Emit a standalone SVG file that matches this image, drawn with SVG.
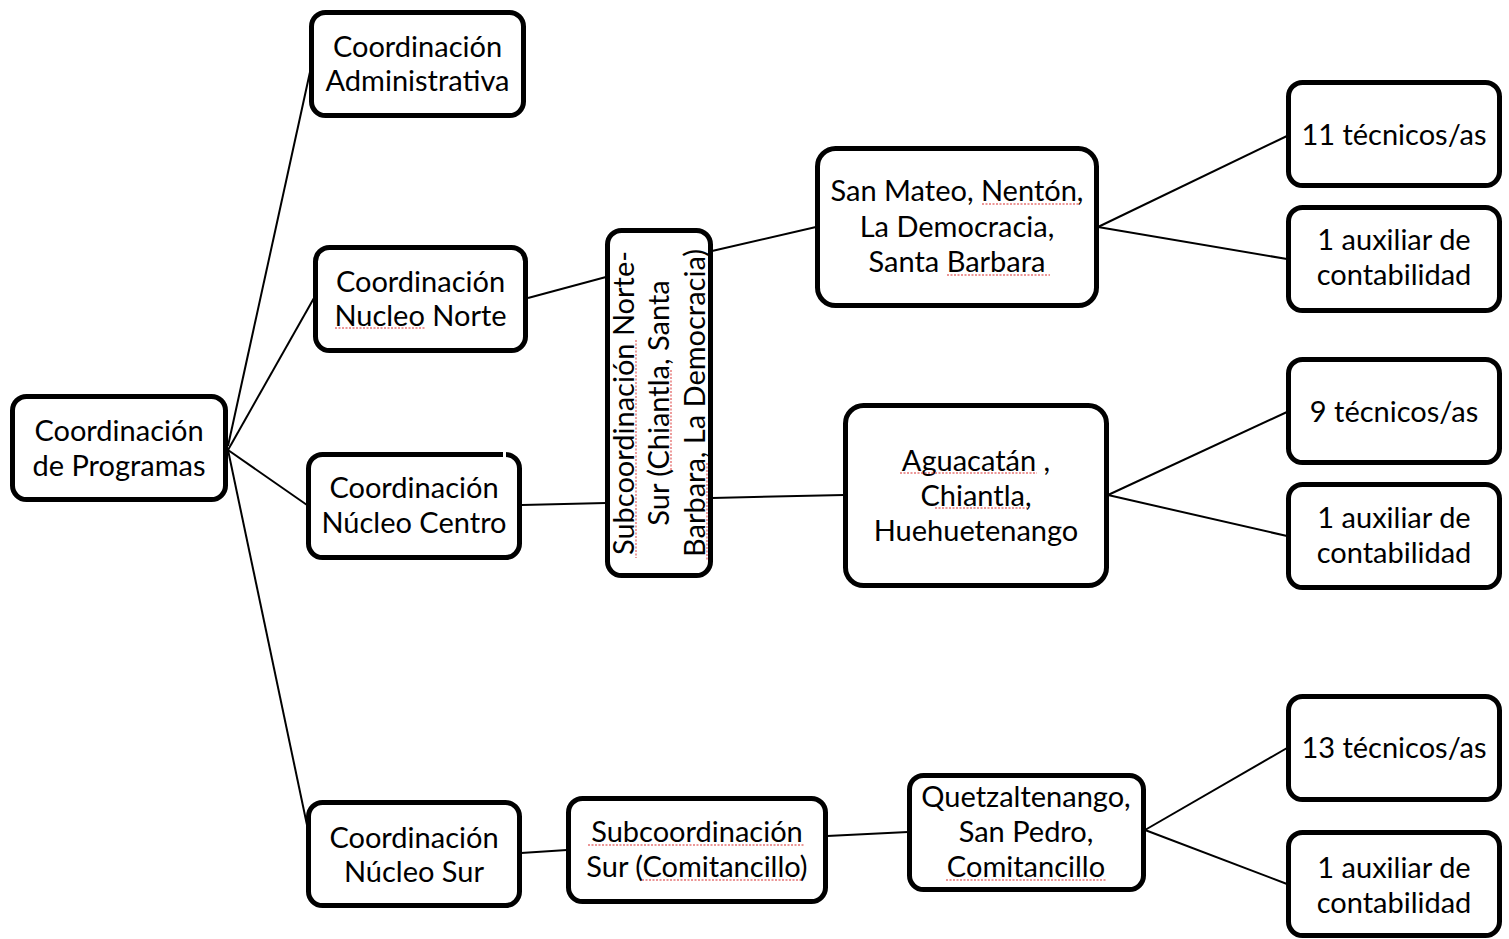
<svg xmlns="http://www.w3.org/2000/svg" width="1509" height="939" viewBox="0 0 1509 939">
<style>
.box{fill:#fff;stroke:#000;stroke-width:5}
.t{font-family:Lato,"Open Sans","Liberation Sans",sans-serif;font-size:29px;fill:#000;text-anchor:middle}
.c{stroke:#000;stroke-width:2;fill:none}
.sq{stroke:#e05050;stroke-width:1.4;stroke-dasharray:2 1.5;fill:none;opacity:.8}
</style>
<rect width="1509" height="939" fill="#fff"/>
<g id="connectors">
<line class="c" x1="228" y1="446" x2="310" y2="72"/>
<line class="c" x1="228" y1="450" x2="314" y2="298"/>
<line class="c" x1="228" y1="450" x2="307" y2="505"/>
<line class="c" x1="228" y1="450" x2="307" y2="825"/>
<line class="c" x1="528" y1="298" x2="606" y2="277"/>
<line class="c" x1="522" y1="505" x2="606" y2="503"/>
<line class="c" x1="712" y1="251" x2="816" y2="227"/>
<line class="c" x1="712" y1="498" x2="844" y2="495"/>
<line class="c" x1="1098" y1="227" x2="1287" y2="136"/>
<line class="c" x1="1098" y1="227" x2="1287" y2="259"/>
<line class="c" x1="1108" y1="495" x2="1287" y2="412"/>
<line class="c" x1="1108" y1="495" x2="1287" y2="536"/>
<line class="c" x1="521" y1="853" x2="567" y2="850"/>
<line class="c" x1="827" y1="836" x2="908" y2="832"/>
<line class="c" x1="1145" y1="830" x2="1287" y2="748"/>
<line class="c" x1="1145" y1="830" x2="1287" y2="884"/>
</g>
<g id="root"><rect class="box" x="12.5" y="396.5" width="213" height="103" rx="14"/>
<text class="t" x="119" y="441">Coordinación</text><text class="t" x="119" y="476">de Programas</text></g>
<g id="admin"><rect class="box" x="311.5" y="12.5" width="212" height="103" rx="14"/>
<text class="t" x="417.5" y="57">Coordinación</text><text class="t" x="417.5" y="91">Administrativa</text></g>
<g id="norte"><rect class="box" x="315.5" y="247.5" width="210" height="103" rx="14"/>
<text class="t" x="420.5" y="292">Coordinación</text><text class="t" x="420.5" y="326">Nucleo Norte</text>
<line class="sq" x1="335" y1="328" x2="426" y2="328"/></g>
<g id="centro"><rect class="box" x="308.5" y="454.5" width="211" height="103" rx="14"/>
<line x1="504.5" y1="450" x2="504.5" y2="459" stroke="#fff" stroke-width="3"/>
<text class="t" x="414" y="498">Coordinación</text><text class="t" x="414" y="533">Núcleo Centro</text></g>
<g id="sur"><rect class="box" x="308.5" y="802.5" width="211" height="103" rx="14"/>
<text class="t" x="414" y="848">Coordinación</text><text class="t" x="414" y="882">Núcleo Sur</text></g>
<g id="subnortesur"><rect class="box" x="607.5" y="230.5" width="103" height="345" rx="14"/>
<g transform="translate(0,403) rotate(-90)">
<text class="t" x="0" y="634">Subcoordinación Norte-</text>
<text class="t" x="0" y="669">Sur (Chiantla, Santa</text>
<text class="t" x="0" y="705">Barbara, La Democracia)</text>
</g>
<line class="sq" x1="636" y1="340" x2="636" y2="558"/>
<line class="sq" x1="671" y1="370" x2="671" y2="470"/>
<line class="sq" x1="707" y1="463" x2="707" y2="560"/></g>
<g id="sanmateo"><rect class="box" x="817.5" y="148.5" width="279" height="157" rx="18"/>
<text class="t" x="957" y="201">San Mateo, Nentón,</text><text class="t" x="957" y="237">La Democracia,</text><text class="t" x="957" y="272">Santa Barbara</text>
<line class="sq" x1="982" y1="204" x2="1080" y2="204"/>
<line class="sq" x1="947" y1="275" x2="1050" y2="275"/></g>
<g id="aguacatan"><rect class="box" x="845.5" y="405.5" width="261" height="180" rx="18"/>
<text class="t" x="976" y="471">Aguacatán ,</text><text class="t" x="976" y="506">Chiantla,</text><text class="t" x="976" y="541">Huehuetenango</text>
<line class="sq" x1="900" y1="473" x2="1037" y2="473"/>
<line class="sq" x1="935" y1="508" x2="1027" y2="508"/></g>
<g id="subsur"><rect class="box" x="568.5" y="798.5" width="257" height="103" rx="14"/>
<text class="t" x="697" y="842">Subcoordinación</text><text class="t" x="697" y="877">Sur (Comitancillo)</text>
<line class="sq" x1="588" y1="845" x2="805" y2="845"/>
<line class="sq" x1="642" y1="880" x2="802" y2="880"/></g>
<g id="quetz"><rect class="box" x="909.5" y="775.5" width="234" height="114" rx="14"/>
<text class="t" x="1026" y="807">Quetzaltenango,</text><text class="t" x="1026" y="842">San Pedro,</text><text class="t" x="1026" y="877">Comitancillo</text>
<line class="sq" x1="946" y1="880" x2="1107" y2="880"/></g>
<g id="tec11"><rect class="box" x="1288.5" y="82.5" width="211" height="103" rx="14"/>
<text class="t" x="1394" y="145">11 técnicos/as</text></g>
<g id="aux1"><rect class="box" x="1288.5" y="207.5" width="211" height="103" rx="14"/>
<text class="t" x="1394" y="250">1 auxiliar de</text><text class="t" x="1394" y="285">contabilidad</text></g>
<g id="tec9"><rect class="box" x="1288.5" y="359.5" width="211" height="103" rx="14"/>
<text class="t" x="1394" y="422">9 técnicos/as</text></g>
<g id="aux2"><rect class="box" x="1288.5" y="484.5" width="211" height="103" rx="14"/>
<text class="t" x="1394" y="528">1 auxiliar de</text><text class="t" x="1394" y="563">contabilidad</text></g>
<g id="tec13"><rect class="box" x="1288.5" y="696.5" width="211" height="103" rx="14"/>
<text class="t" x="1394" y="758">13 técnicos/as</text></g>
<g id="aux3"><rect class="box" x="1288.5" y="832.5" width="211" height="103" rx="14"/>
<text class="t" x="1394" y="878">1 auxiliar de</text><text class="t" x="1394" y="913">contabilidad</text></g>
</svg>
